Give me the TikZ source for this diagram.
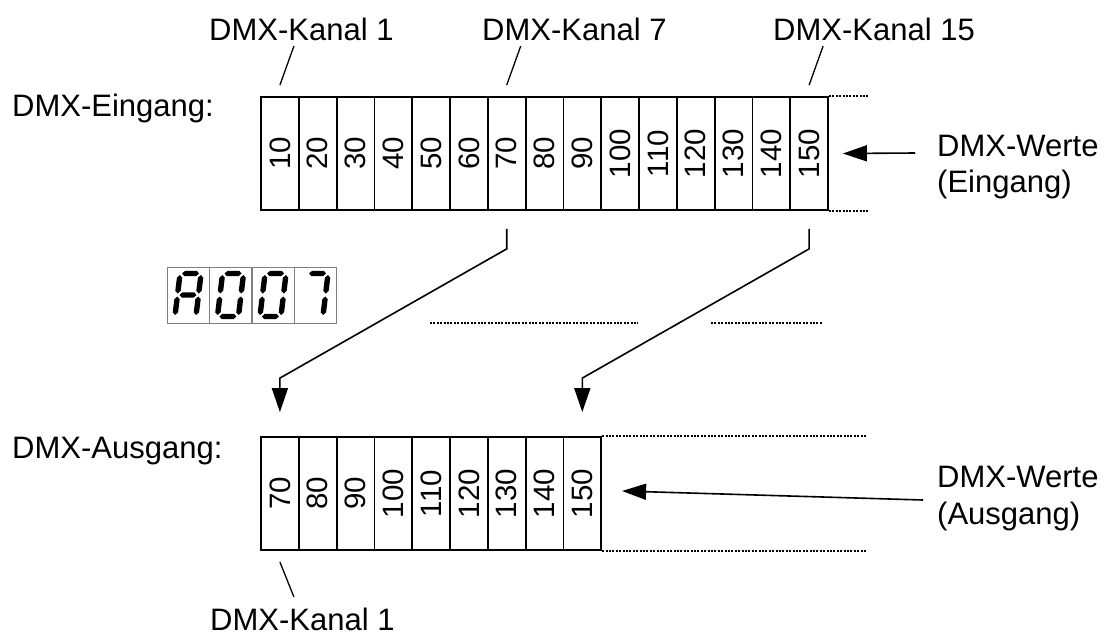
\documentclass[tikz,border=0pt]{standalone}
\usepackage{fontspec}
\setmainfont{Liberation Sans}
\usetikzlibrary{arrows.meta}

% Segmente der 7-Segment-Anzeige
\newcommand{\segh}[1]{\fill (-8.5,#1) -- (-5.8,#1-2.7) -- (5.8,#1-2.7) -- (8.5,#1) -- (5.8,#1+2.7) -- (-5.8,#1+2.7) -- cycle;}
\newcommand{\segv}[3]{\fill (#1,#2) -- (#1+2.7,#2+2.7) -- (#1+2.7,#3-2.7) -- (#1,#3) -- (#1-2.7,#3-2.7) -- (#1-2.7,#2+2.7) -- cycle;}
\newcommand{\sega}{\segh{-21.5}}
\newcommand{\segg}{\segh{0}}
\newcommand{\segd}{\segh{21.5}}
\newcommand{\segb}{\segv{10.5}{-20}{-1.5}}
\newcommand{\segc}{\segv{10.5}{1.5}{20}}
\newcommand{\segf}{\segv{-10.5}{-20}{-1.5}}
\newcommand{\sege}{\segv{-10.5}{1.5}{20}}

\tikzset{
  txt/.style={font=\fontsize{31}{37}\selectfont, inner sep=0pt, anchor=base west},
  cell/.style={draw, line width=1.8pt, minimum width=37.8pt, minimum height=113pt, inner sep=0pt, font=\fontsize{29.5}{35}\selectfont},
  lcd/.style={draw=gray, line width=1pt, minimum width=42pt, minimum height=56pt, inner sep=0pt},
  contline/.style={line width=1.3pt, dash pattern=on 2pt off 1.4pt},
  arr/.style={line width=1.6pt, -{Triangle[length=24pt, width=16pt]}}
}

\begin{document}
\begin{tikzpicture}[x=1pt, y=-1pt]
    \useasboundingbox (0,0) rectangle (1104,638);

    % Beschriftungen
    \node[txt] (kanal1) at (209,40) {DMX-Kanal 1};
    \node[txt] (kanal7) at (482,40) {DMX-Kanal 7};
    \node[txt] (kanal15) at (773,40) {DMX-Kanal 15};
    \node[txt] (eingang) at (12,116) {DMX-Eingang:};
    \node[txt] (ausgang) at (12,458) {DMX-Ausgang:};
    \node[txt] (werteE) at (937,156) {DMX-Werte};
    \node[txt] (klammerE) at (937,192) {(Eingang)};
    \node[txt] (werteA) at (937,487) {DMX-Werte};
    \node[txt] (klammerA) at (937,524) {(Ausgang)};
    \node[txt] (kanalAus) at (210,630) {DMX-Kanal 1};

    % Eingang und Ausgang
    \foreach \v [count=\i] in {10,20,...,150}
        \node[cell] (in\i) at ({261+(\i-0.5)*37.8},153.5) {\rotatebox{90}{\v}};
    \foreach \v [count=\i] in {70,80,...,150}
        \node[cell] (out\i) at ({261+(\i-0.5)*37.8},493.5) {\rotatebox{90}{\v}};

    \draw[contline] (in15.north east) -- ++(40,0);
    \draw[contline] (in15.south east) -- ++(40,0);
    \draw[contline] (out9.north east) -- ++(265,0);
    \draw[contline] (out9.south east) -- ++(265,0);
    \draw[contline] (430,323) -- (638,323);
    \draw[contline] (711,323) -- (823,323);

    % Kanal-Striche
    \draw[line width=1.3pt] ([yshift=11pt]in1.north) -- ++(14,-39);
    \draw[line width=1.3pt] ([yshift=11pt]in7.north) -- ++(14,-39);
    \draw[line width=1.3pt] ([yshift=11pt]in15.north) -- ++(14,-39);
    \draw[line width=1.3pt] ([yshift=-11pt]out1.south) -- ++(14,35);

    % Zuordnung
    \draw[arr] ([yshift=-18pt]in7.south) -- ++(0,20) -- ([yshift=58pt]out1.north) -- ([yshift=24pt]out1.north);
    \draw[arr] ([yshift=-18pt]in15.south) -- ++(0,20) -- ([yshift=58pt]out9.north) -- ([yshift=24pt]out9.north);
    \draw[arr] (915,153) -- ([xshift=14pt]in15.east);
    \draw[arr] (923,500) -- ([shift={(20pt,2.5pt)}]out9.east);

    % Anzeige A007
    \foreach \n/\x in {1/188,2/230.5,3/273,4/315}
        \node[lcd] (lcd\n) at (\x,295) {};
    \begin{scope}[shift={(lcd1.center)}, xslant=0.12]
        \sega\segb\segc\sege\segf\segg
    \end{scope}
    \begin{scope}[shift={(lcd2.center)}, xslant=0.12]
        \sega\segb\segc\segd\sege\segf
    \end{scope}
    \begin{scope}[shift={(lcd3.center)}, xslant=0.12]
        \sega\segb\segc\segd\sege\segf
    \end{scope}
    \begin{scope}[shift={(lcd4.center)}, xslant=0.12]
        \sega\segb\segc
    \end{scope}
\end{tikzpicture}
\end{document}
